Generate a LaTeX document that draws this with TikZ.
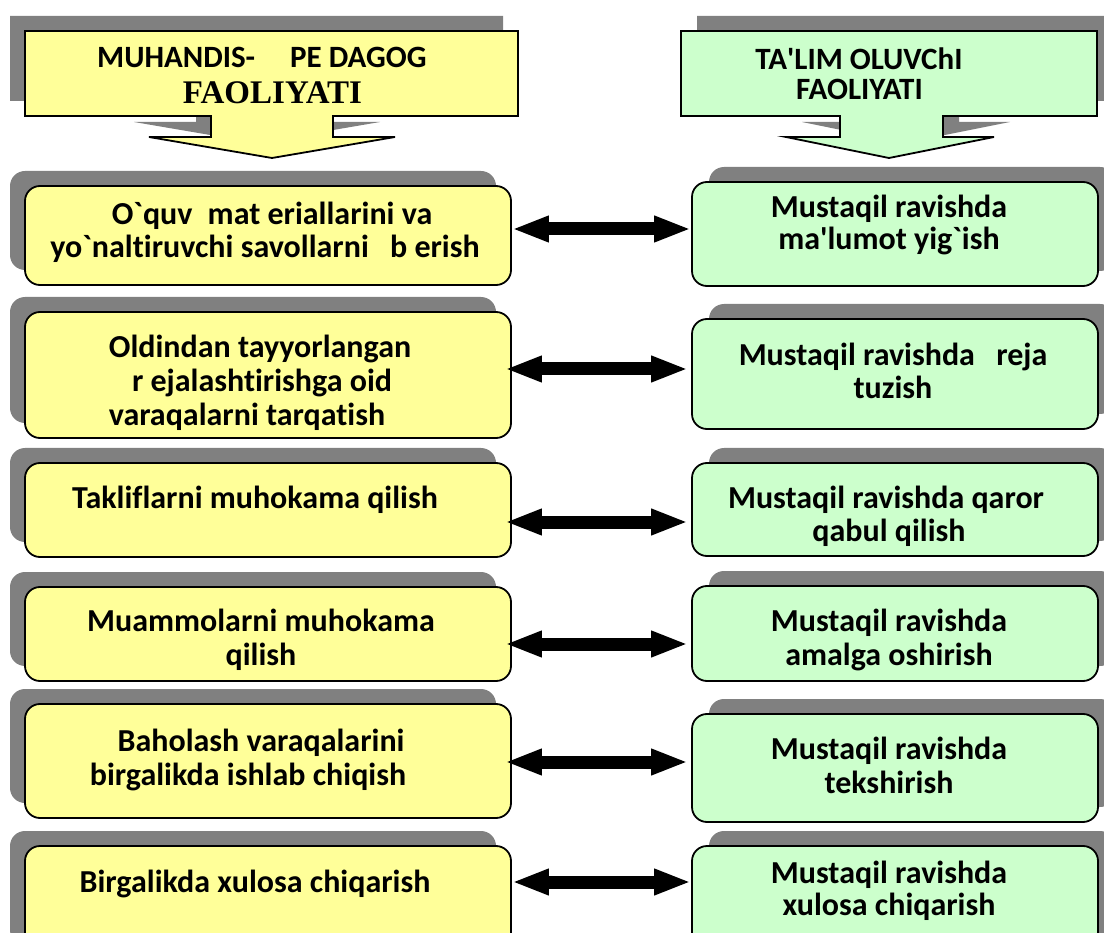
\documentclass[tikz,border=0pt]{standalone}
\usepackage{fontspec}
\setmainfont{Carlito}[Ligatures=CommonOff]
\newfontfamily\tnr{Liberation Serif}
\usetikzlibrary{arrows.meta,shadows}
\definecolor{ylw}{HTML}{FFFF99}
\definecolor{grn}{HTML}{CCFFCC}
\definecolor{shd}{HTML}{808080}
\newcommand{\apo}{\XeTeXglyph\XeTeXcharglyph"0027\relax}
\newcommand{\grv}{\XeTeXglyph\XeTeXcharglyph"0060\relax}
\tikzset{
  lbox/.style={draw=black, line width=1.8pt, fill=ylw, rounded corners=15pt,
    minimum width=486pt, inner sep=0pt,
    general shadow={fill=shd, shadow xshift=-15pt, shadow yshift=15pt}},
  rbox/.style={draw=black, line width=1.8pt, fill=grn, rounded corners=15pt,
    minimum width=406pt, inner sep=0pt,
    general shadow={fill=shd, shadow xshift=17pt, shadow yshift=15pt}},
  txt/.style={anchor=base, inner sep=0pt, font=\bfseries\fontsize{32}{33}\selectfont},
  htxt/.style={anchor=base, inner sep=0pt, font=\bfseries\fontsize{31}{31}\selectfont},
  dbl/.style={line width=13pt, arrows={Triangle[width=24pt,length=37pt]-Triangle[width=24pt,length=37pt]}},
  callout/.style={draw=black, line width=1.8pt, line join=miter}
}
\begin{document}
\begin{tikzpicture}[x=1pt,y=-1pt]
\useasboundingbox (0,0) rectangle (1104,933);
\clip (0,0) rectangle (1104,933);
% left header
\begin{scope}[shift={(-15,-15)}]
\fill[shd] (25,31) -- (518,31) -- (518,116) -- (333,116) -- (333,137) -- (395,137) -- (272,158) -- (149,137) -- (211,137) -- (211,116) -- (25,116) -- cycle;
\end{scope}
\draw[callout, fill=ylw] (25,31) -- (518,31) -- (518,116) -- (333,116) -- (333,137) -- (395,137) -- (272,158) -- (149,137) -- (211,137) -- (211,116) -- (25,116) -- cycle;
% right header
\begin{scope}[shift={(16,-15)}]
\fill[shd] (681,31) -- (1097,31) -- (1097,116) -- (943,116) -- (943,137) -- (994,137) -- (889,158) -- (786,137) -- (840,137) -- (840,116) -- (681,116) -- cycle;
\end{scope}
\draw[callout, fill=grn] (681,31) -- (1097,31) -- (1097,116) -- (943,116) -- (943,137) -- (994,137) -- (889,158) -- (786,137) -- (840,137) -- (840,116) -- (681,116) -- cycle;
\node[htxt, anchor=base west] (hl1) at (97,68) {MUHANDIS-};
\node[htxt, anchor=base west] (hl1b) at (290,68) {PE DAGOG};
\node[anchor=base, inner sep=0pt, font=\tnr\bfseries\fontsize{33}{33}\selectfont] (hl2) at (272.5,104) {FAOLIYATI};
\node[htxt] (hr1) at (859,70) {TA\apo LIM OLUVChI};
\node[htxt] (hr2) at (859.5,100) {FAOLIYATI};
% left boxes
\node[lbox, minimum height=99pt] (L1) at (268,235.5) {};
\node[lbox, minimum height=126pt] (L2) at (268,375) {};
\node[lbox, minimum height=94pt] (L3) at (268,510) {};
\node[lbox, minimum height=94pt] (L4) at (268,634) {};
\node[lbox, minimum height=114pt] (L5) at (268,761) {};
\node[lbox, minimum height=114pt] (L6) at (268,903) {};
% right boxes
\node[rbox, minimum height=104pt] (R1) at (895,234) {};
\node[rbox, minimum height=110pt] (R2) at (895,374) {};
\node[rbox, minimum height=93pt] (R3) at (895,509.5) {};
\node[rbox, minimum height=95pt] (R4) at (895,633.5) {};
\node[rbox, minimum height=108pt] (R5) at (895,768) {};
\node[rbox, minimum height=114pt] (R6) at (895,903) {};
% left texts
\node[txt] (l1a) at (272,225) {O\grv quv\hspace{8pt} mat eriallarini va};
\node[txt] (l1b) at (265,258) {yo\grv naltiruvchi savollarni\hspace{14pt} b erish};
\node[txt] (l2a) at (260,358) {Oldindan tayyorlangan};
\node[txt] (l2b) at (262,392) {r ejalashtirishga oid};
\node[txt] (l2c) at (247,426) {varaqalarni tarqatish};
\node[txt] (l3a) at (255,508) {Takliflarni muhokama qilish};
\node[txt] (l4a) at (261,631) {Muammolarni muhokama};
\node[txt] (l4b) at (261,665) {qilish};
\node[txt] (l5a) at (261,751) {Baholash varaqalarini};
\node[txt] (l5b) at (248,785) {birgalikda ishlab chiqish};
\node[txt] (l6a) at (255,892) {Birgalikda xulosa chiqarish};
% right texts
\node[txt] (r1a) at (889,218) {Mustaqil ravishda};
\node[txt] (r1b) at (889,250) {ma\apo lumot yig\grv ish};
\node[txt] (r2a) at (893,366) {Mustaqil ravishda\hspace{14pt} reja};
\node[txt] (r2b) at (893,399) {tuzish};
\node[txt] (r3a) at (886,508) {Mustaqil ravishda qaror};
\node[txt] (r3b) at (889,541) {qabul qilish};
\node[txt] (r4a) at (889,631) {Mustaqil ravishda};
\node[txt] (r4b) at (889,665) {amalga oshirish};
\node[txt] (r5a) at (889,759) {Mustaqil ravishda};
\node[txt] (r5b) at (889,793) {tekshirish};
\node[txt] (r6a) at (889,883) {Mustaqil ravishda};
\node[txt] (r6b) at (889,915) {xulosa chiqarish};
% connectors
\draw[dbl] ([yshift=6.5pt]L1.east) -- ([yshift=5pt]R1.west);
\draw[dbl, shorten <=-7pt, shorten >=3pt] ([yshift=6pt]L2.east) -- ([yshift=5pt]R2.west);
\draw[dbl, shorten <=-7pt, shorten >=3pt] ([yshift=-12pt]L3.east) -- ([yshift=-12.5pt]R3.west);
\draw[dbl, shorten <=-7pt, shorten >=3pt] ([yshift=-10pt]L4.east) -- ([yshift=-10.5pt]R4.west);
\draw[dbl, shorten <=-7pt, shorten >=3pt] ([yshift=-1pt]L5.east) -- ([yshift=6pt]R5.west);
\draw[dbl] ([yshift=21pt]L6.east) -- ([yshift=21pt]R6.west);
\end{tikzpicture}
\end{document}
